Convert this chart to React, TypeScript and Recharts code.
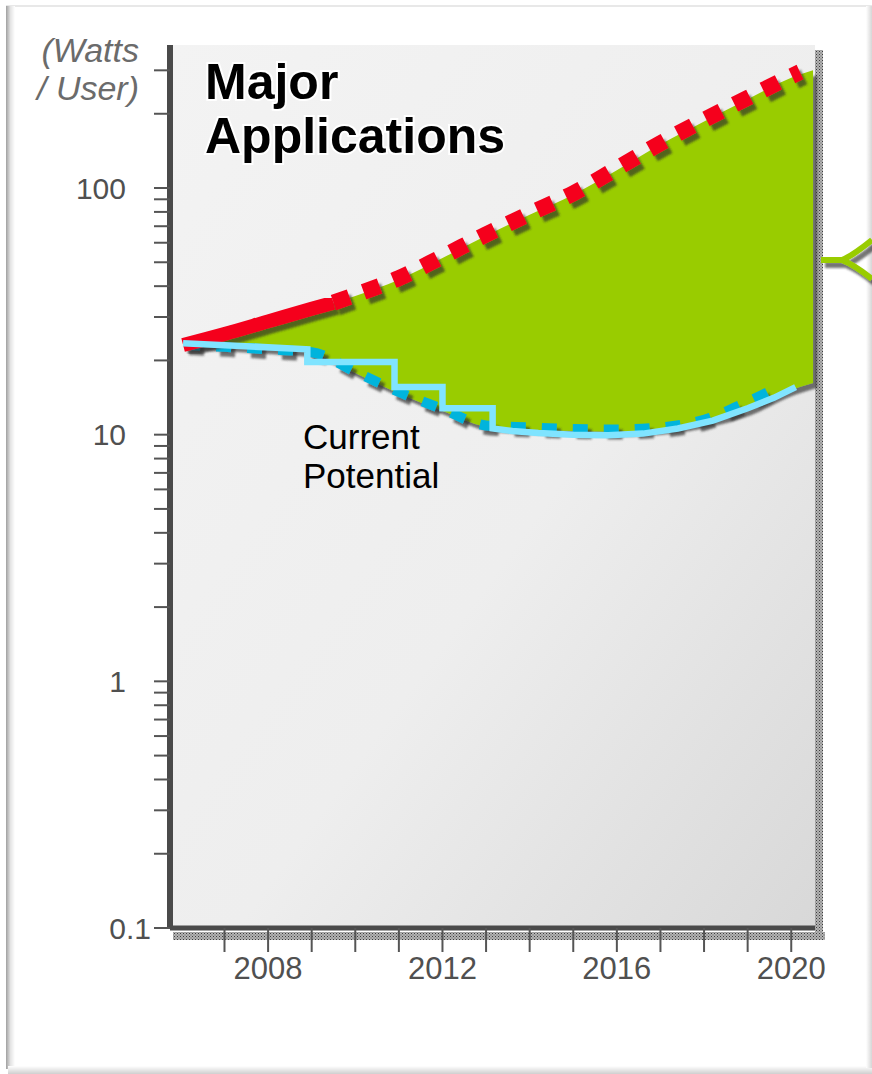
import React from 'react'
import { ComposedChart, Area, Line, XAxis, YAxis } from 'recharts'

const W = 872
const H = 1074
const FONT = '"Liberation Sans", Arial, sans-serif'

// axis setup
const X_DOMAIN = [2005.75, 2020.545]
const X_TICKS = [2007, 2008, 2009, 2010, 2011, 2012, 2013, 2014, 2015, 2016, 2017, 2018, 2019, 2020]
const X_LABELS = [2008, 2012, 2016, 2020]
const Y_DOMAIN = [0.1, 380]
const Y_TICKS = [0.1, 0.2, 0.3, 0.4, 0.5, 0.6, 0.7, 0.8, 0.9, 1, 2, 3, 4, 5, 6, 7, 8, 9,
  10, 20, 30, 40, 50, 60, 70, 80, 90, 100, 200, 300]
const Y_LABELS = [0.1, 1, 10, 100]

// upper bound (red)
const RED_YEARS = [2006.05, 2007, 2008, 2009, 2009.5, 2010, 2011, 2012, 2013, 2014, 2015, 2016, 2017, 2018, 2019, 2020, 2020.2]
const RED_VALUES = [23.1, 25.6, 28.8, 32.4, 34.3, 36.9, 43.1, 52.7, 64.8, 78.8, 95.2, 120, 152, 189, 232, 284, 295]
const RED_SOLID_END = 2009.5

// green band between bounds
const GREEN_YEARS = [2006.1, 2007, 2008, 2009, 2010, 2011, 2012, 2013, 2014, 2015, 2016, 2017, 2018, 2019, 2020, 2020.5]
const GREEN_LOW = [23.1, 22.7, 22.2, 21.4, 17.8, 14.7, 12.5, 10.8, 10.5, 10.35, 10.3, 10.5, 11.2, 12.6, 15.2, 16.2]
const GREEN_HIGH = [23.1, 25.4, 28.5, 32, 36.5, 42.5, 52, 64, 78, 94, 118, 150, 186, 229, 280, 300]

// trend of current potential (blue dotted)
const BLUE_YEARS = [2006.1, 2007, 2008, 2009, 2010, 2011, 2012, 2013, 2014, 2015, 2016, 2017, 2018, 2019, 2019.7]
const BLUE_VALUES = [23.1, 22.7, 22.2, 21.6, 18.0, 14.9, 12.7, 10.9, 10.7, 10.55, 10.5, 10.7, 11.5, 13.6, 15.6]

// current potential (stepped, light cyan)
const CYAN_YEARS = [2006.05, 2008.9, 2008.9, 2010.9, 2010.9, 2012.0, 2012.0, 2013.15, 2013.15,
  2013.6, 2014.2, 2015, 2015.8, 2016.6, 2017.4, 2018.2, 2019, 2019.6, 2020.1]
const CYAN_VALUES = [23.5, 22.2, 19.7, 19.7, 15.6, 15.6, 12.8, 12.8, 10.6,
  10.35, 10.15, 10.0, 9.95, 10.1, 10.6, 11.4, 12.8, 14.1, 15.6]

const redData = RED_YEARS.map((year, i) => ({ year, v: RED_VALUES[i] }))
const redSolid = redData.filter(d => d.year <= RED_SOLID_END)
const redDotted = redData.filter(d => d.year >= RED_SOLID_END)
const greenData = GREEN_YEARS.map((year, i) => ({ year, band: [GREEN_LOW[i], GREEN_HIGH[i]] }))
const blueData = BLUE_YEARS.map((year, i) => ({ year, v: BLUE_VALUES[i] }))
const cyanData = CYAN_YEARS.map((year, i) => ({ year, v: CYAN_VALUES[i] }))

const PLOT = { left: 170, top: 45, right: 815, bottom: 928 }

function XTick(props: any) {
  const { x, y, payload } = props
  if (!X_LABELS.includes(payload.value)) return <g />
  return (
    <text x={x} y={y + 25} textAnchor="middle" fontSize={31} fill="#505050" fontFamily={FONT}>
      {payload.value}
    </text>
  )
}

function YTick(props: any) {
  const { x, y, payload } = props
  if (!Y_LABELS.includes(payload.value)) return <g />
  const end = payload.value === 0.1 ? x - 1 : x - 26
  return (
    <text x={end} y={y} dy="0.35em" textAnchor="end" fontSize={30} fill="#505050" fontFamily={FONT}>
      {payload.value}
    </text>
  )
}

function Frame() {
  return (
    <>
      <div style={{ position: 'absolute', left: 6, top: 5, width: W - 6, height: 2, background: '#e8e8e8' }} />
      <div style={{ position: 'absolute', left: 6, top: 6, width: 9, height: 1063, background: 'linear-gradient(to right, #a0a0a0, #e4e4e4 50%, #fff)' }} />
      <div style={{ position: 'absolute', left: 8, top: 1066, width: W - 8, height: 8, background: 'linear-gradient(to bottom, #fff, #cfcfcf)' }} />
      <div style={{ position: 'absolute', left: 866, top: 6, width: 6, height: 1062, background: 'linear-gradient(to right, #fff, #d6d6d6)' }} />
    </>
  )
}

export default function App() {
  return (
    <div style={{ position: 'absolute', left: 0, top: 0, width: W, height: H, background: '#fff', overflow: 'hidden' }}>
      <style>{`.shd { filter: url(#shd); }`}</style>
      <svg width={0} height={0} style={{ position: 'absolute' }}>
        <defs>
          <filter id="shd" x="-10%" y="-10%" width="130%" height="130%">
            <feOffset in="SourceAlpha" dx={4} dy={5} result="off" />
            <feGaussianBlur in="off" stdDeviation={0.8} result="blur" />
            <feFlood floodColor="#2a2a2a" floodOpacity={0.65} />
            <feComposite in2="blur" operator="in" result="shadow" />
            <feMerge>
              <feMergeNode in="shadow" />
              <feMergeNode in="SourceGraphic" />
            </feMerge>
          </filter>
          <pattern id="hatch" width={3} height={3} patternUnits="userSpaceOnUse">
            <rect width={3} height={3} fill="#b4b4b4" />
            <rect width={1} height={1} fill="#3c3c3c" />
            <rect x={1.5} y={1.5} width={1} height={1} fill="#5a5a5a" />
          </pattern>
          <linearGradient id="plotbg" x1="0" y1="0" x2="1" y2="1">
            <stop offset="0" stopColor="#f3f3f3" />
            <stop offset="0.55" stopColor="#eeeeee" />
            <stop offset="1" stopColor="#d8d8d8" />
          </linearGradient>
        </defs>
      </svg>

      <Frame />

      {/* plot background and decorations behind the chart */}
      <svg width={W} height={H} style={{ position: 'absolute', left: 0, top: 0 }}>
        <rect x={PLOT.left} y={PLOT.top} width={PLOT.right - PLOT.left} height={PLOT.bottom - PLOT.top + 2} fill="url(#plotbg)" />
        <rect x={173} y={932} width={652} height={8} fill="url(#hatch)" />
        <rect x={815} y={50} width={8} height={890} fill="url(#hatch)" />
        <g className="shd">
          <path d="M 821 260 L 842 260 C 852 256 862 248 872 240 M 842 260 C 852 264 862 271 872 279"
            fill="none" stroke="#99cc00" strokeWidth={6} />
        </g>
      </svg>

      <div style={{ position: 'absolute', left: 0, top: 0 }}>
        <ComposedChart width={W} height={H} margin={{ top: PLOT.top, right: W - PLOT.right, bottom: 0, left: 0 }}>
          <XAxis type="number" dataKey="year" domain={X_DOMAIN} allowDataOverflow ticks={X_TICKS} interval={0}
            height={H - PLOT.bottom} tickSize={24} tickMargin={2}
            axisLine={{ stroke: '#4a4a4a', strokeWidth: 5 }} tickLine={{ stroke: '#555', strokeWidth: 2 }}
            tick={XTick} />
          <YAxis type="number" scale="log" domain={Y_DOMAIN} allowDataOverflow ticks={Y_TICKS} interval={0}
            width={PLOT.left} tickSize={16} tickMargin={2}
            axisLine={{ stroke: '#4a4a4a', strokeWidth: 6 }} tickLine={{ stroke: '#555', strokeWidth: 2 }}
            tick={YTick} />
          <Area data={greenData} dataKey="band" type="monotone" stroke="none" fill="#99cc00" fillOpacity={1}
            isAnimationActive={false} dot={false} activeDot={false} className="shd" />
          <Line data={blueData} dataKey="v" type="monotone" stroke="#00b4dc" strokeWidth={10}
            strokeDasharray="15 16" dot={false} activeDot={false} isAnimationActive={false} className="shd" />
          <Line data={redSolid} dataKey="v" type="monotone" stroke="#f5001e" strokeWidth={14}
            dot={false} activeDot={false} isAnimationActive={false} className="shd" />
          <Line data={redDotted} dataKey="v" type="monotone" stroke="#f5001e" strokeWidth={16}
            strokeDasharray="17 15" dot={false} activeDot={false} isAnimationActive={false} className="shd" />
          <Line data={cyanData} dataKey="v" type="linear" stroke="#80e4ff" strokeWidth={6.5}
            dot={false} activeDot={false} isAnimationActive={false} />
        </ComposedChart>
      </div>

      {/* texts on top */}
      <svg width={W} height={H} style={{ position: 'absolute', left: 0, top: 0, pointerEvents: 'none' }}>
        <g fontFamily={FONT} fontWeight="bold" fontSize={50} fill="#000" stroke="#fff" strokeWidth={4} paintOrder="stroke">
          <text x={205} y={99}>Major</text>
          <text x={205} y={153}>Applications</text>
        </g>
        <g fontFamily={FONT} fontStyle="italic" fontSize={34} fill="#6b6b6b" textAnchor="end">
          <text x={139} y={62}>(Watts</text>
          <text x={139} y={100}>/ User)</text>
        </g>
        <g fontFamily={FONT} fontSize={35} fill="#000">
          <text x={303} y={449}>Current</text>
          <text x={303} y={488}>Potential</text>
        </g>
      </svg>
    </div>
  )
}
